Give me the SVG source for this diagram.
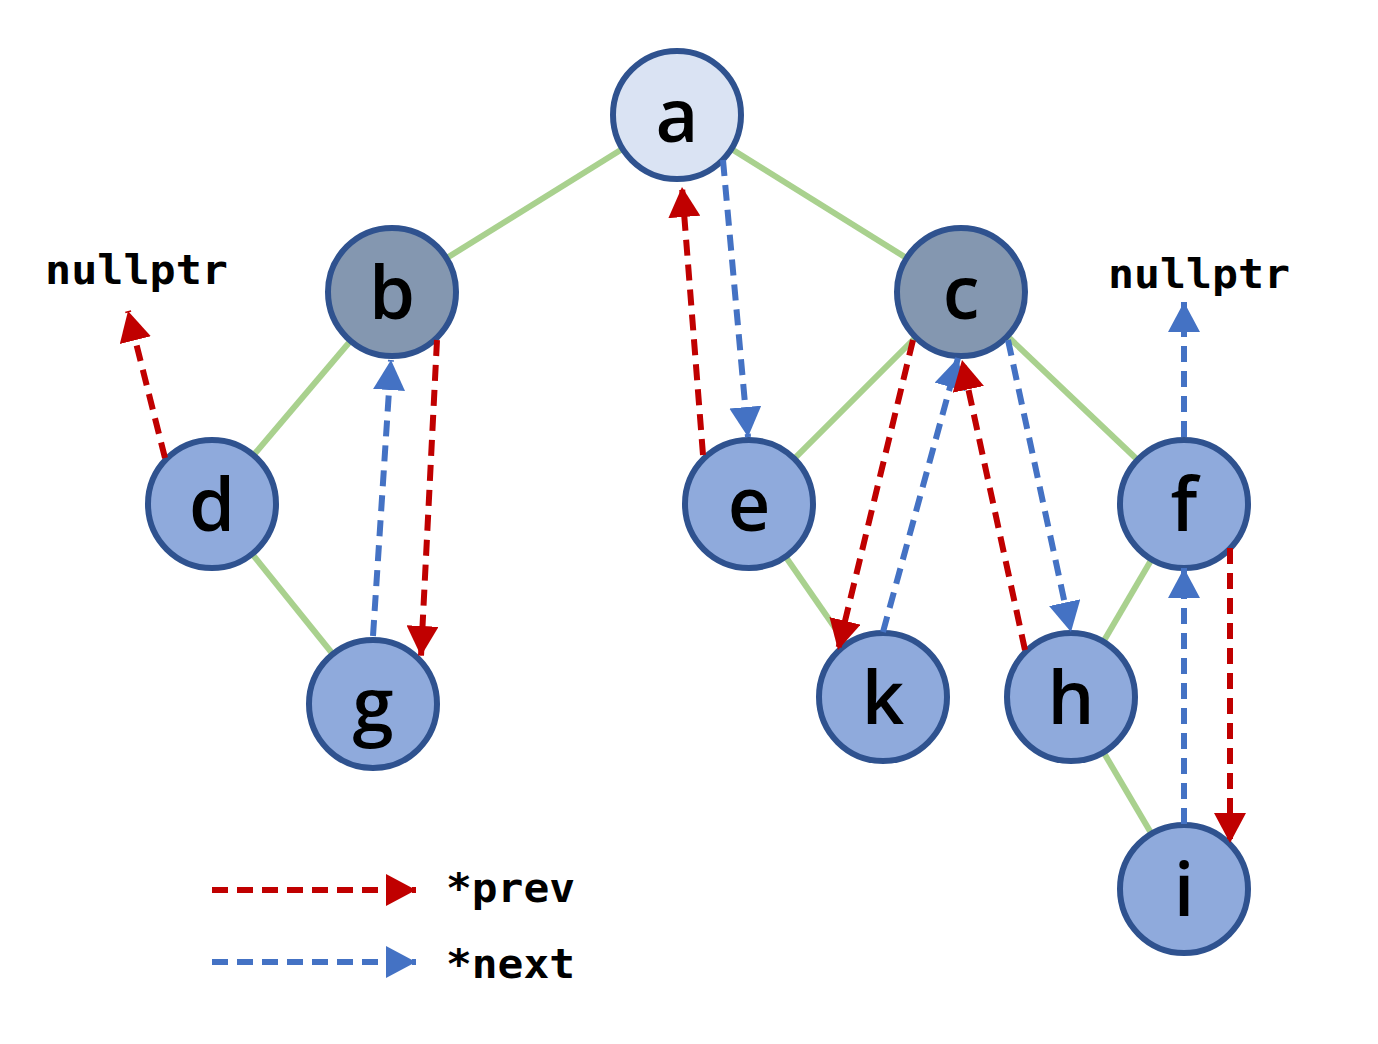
<svg xmlns="http://www.w3.org/2000/svg" width="1378" height="1044" viewBox="0 0 1378 1044">
<style>
.edge{stroke:#A9D18E;stroke-width:6;fill:none}
.node circle{stroke:#2F528F;stroke-width:6}
.node text{font-family:"Open Sans","Liberation Sans",sans-serif;font-weight:600;font-size:74px;fill:#000;text-anchor:middle}
.prev{stroke:#C00000;stroke-width:6;stroke-dasharray:16 9;fill:none;marker-end:url(#ar)}
.next{stroke:#4472C4;stroke-width:6;stroke-dasharray:16 9;fill:none;marker-end:url(#ab)}
.mono{font-family:"DejaVu Sans Mono","Liberation Mono",monospace;font-weight:bold;font-size:41px;fill:#000}
</style>
<defs>
<marker id="ar" markerWidth="32" markerHeight="32" refX="30" refY="16" orient="auto" markerUnits="userSpaceOnUse"><path d="M0,0 L30,16 L0,32 Z" fill="#C00000"/></marker>
<marker id="ab" markerWidth="32" markerHeight="32" refX="30" refY="16" orient="auto" markerUnits="userSpaceOnUse"><path d="M0,0 L30,16 L0,32 Z" fill="#4472C4"/></marker>
</defs>
<rect width="1378" height="1044" fill="#fff"/>
<g id="edges">
<line class="edge" x1="677" y1="115" x2="392" y2="292"/>
<line class="edge" x1="677" y1="115" x2="961" y2="292"/>
<line class="edge" x1="392" y1="292" x2="212" y2="504"/>
<line class="edge" x1="212" y1="504" x2="373" y2="704"/>
<line class="edge" x1="961" y1="292" x2="749" y2="504"/>
<line class="edge" x1="961" y1="292" x2="1184" y2="504"/>
<line class="edge" x1="749" y1="504" x2="883" y2="697"/>
<line class="edge" x1="1184" y1="504" x2="1071" y2="697"/>
<line class="edge" x1="1071" y1="697" x2="1184" y2="889"/>
</g>
<g id="node-a" class="node"><circle cx="677" cy="115" r="64" fill="#DAE3F3"/><text x="677" y="142">a</text></g>
<g id="node-b" class="node"><circle cx="392" cy="292" r="64" fill="#8497B0"/><text x="392" y="319">b</text></g>
<g id="node-c" class="node"><circle cx="961" cy="292" r="64" fill="#8497B0"/><text x="961" y="319">c</text></g>
<g id="node-d" class="node"><circle cx="212" cy="504" r="64" fill="#8FAADC"/><text x="212" y="531">d</text></g>
<g id="node-e" class="node"><circle cx="749" cy="504" r="64" fill="#8FAADC"/><text x="749" y="531">e</text></g>
<g id="node-f" class="node"><circle cx="1184" cy="504" r="64" fill="#8FAADC"/><text x="1184" y="531">f</text></g>
<g id="node-g" class="node"><circle cx="373" cy="704" r="64" fill="#8FAADC"/><text x="373" y="731">g</text></g>
<g id="node-k" class="node"><circle cx="883" cy="697" r="64" fill="#8FAADC"/><text x="883" y="724">k</text></g>
<g id="node-h" class="node"><circle cx="1071" cy="697" r="64" fill="#8FAADC"/><text x="1071" y="724">h</text></g>
<g id="node-i" class="node"><circle cx="1184" cy="889" r="64" fill="#8FAADC"/><text x="1184" y="916">i</text></g>
<g id="connectors">
<line class="prev" x1="165" y1="458" x2="128" y2="311"/>
<line class="next" x1="373" y1="636" x2="391" y2="360"/>
<line class="prev" x1="437" y1="340" x2="421" y2="656"/>
<line class="prev" x1="703" y1="455" x2="682" y2="187"/>
<line class="next" x1="723" y1="160" x2="748" y2="437"/>
<line class="prev" x1="913" y1="340" x2="838" y2="650"/>
<line class="next" x1="883" y1="632" x2="958" y2="358"/>
<line class="prev" x1="1025" y1="650" x2="962" y2="360"/>
<line class="next" x1="1008" y1="340" x2="1071" y2="632"/>
<line class="next" x1="1184" y1="437" x2="1184" y2="302"/>
<line class="next" x1="1184" y1="824" x2="1184" y2="568"/>
<line class="prev" x1="1230" y1="548" x2="1230" y2="843"/>
<line class="prev" x1="212" y1="890" x2="416" y2="890"/>
<line class="next" x1="212" y1="962" x2="416" y2="962"/>
</g>
<text class="mono" x="45" y="284" textLength="183" lengthAdjust="spacingAndGlyphs">nullptr</text>
<text class="mono" x="1108" y="288" textLength="182" lengthAdjust="spacingAndGlyphs">nullptr</text>
<text class="mono" x="446" y="902" textLength="129" lengthAdjust="spacingAndGlyphs">*prev</text>
<text class="mono" x="446" y="978" textLength="129" lengthAdjust="spacingAndGlyphs">*next</text>
</svg>
